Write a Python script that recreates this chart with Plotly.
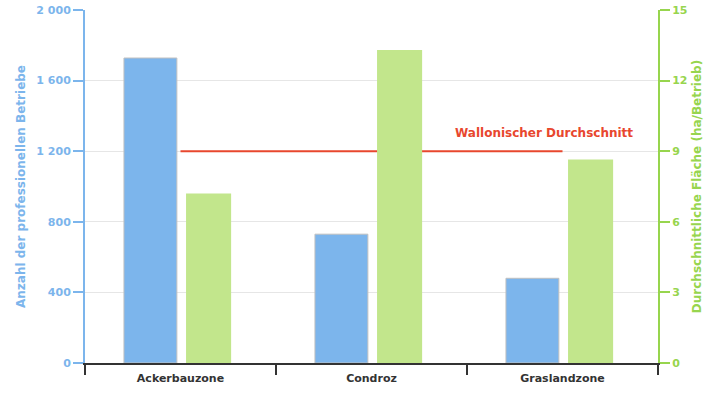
import plotly.graph_objects as go

categories = ["Ackerbauzone", "Condroz", "Graslandzone"]
betriebe = [1728, 730, 480]
flaeche = [7.2, 13.3, 8.65]
wallon_avg = 1200
avg_label = "Wallonischer Durchschnitt"

blue = "#7cb5ec"
green_bar = "#c2e68c"
green_axis = "#97d54e"
red = "#e8472e"
font = "DejaVu Sans"

x = list(range(len(categories)))

fig = go.Figure()
fig.add_trace(go.Bar(x=x, y=betriebe, yaxis="y", width=0.277, offset=-0.296,
                     marker=dict(color=blue, line=dict(color="#c0c0c0", width=1)),
                     hoverinfo="skip"))
fig.add_trace(go.Bar(x=x, y=flaeche, yaxis="y2", width=0.236, offset=0.029,
                     marker=dict(color=green_bar, line=dict(width=0)),
                     hoverinfo="skip"))
fig.add_trace(go.Scatter(x=[x[0], x[-1]], y=[wallon_avg, wallon_avg], mode="lines",
                         line=dict(color=red, width=2), yaxis="y", hoverinfo="skip"))

fig.add_annotation(x=2.38, y=1303, xref="x", yref="y", text="<b>" + avg_label + "</b>",
                   showarrow=False, xanchor="right", yanchor="middle",
                   font=dict(family=font, size=12, color=red))

fig.update_layout(
    width=725, height=400,
    margin=dict(l=85, r=67, t=10, b=37, autoexpand=False),
    plot_bgcolor="white", paper_bgcolor="white",
    showlegend=False, barmode="overlay",
    separators=", ",
    font=dict(family=font),
    xaxis=dict(range=[-0.5, 2.5], tickvals=x,
               ticktext=["<b>" + c + "</b>" for c in categories],
               tickfont=dict(family=font, size=11, color="#333333"),
               ticks="", showgrid=False, zeroline=False, automargin=False,
               ticklabelstandoff=4,
               showline=True, linecolor="#333333", linewidth=2,
               minor=dict(tick0=-0.5, dtick=1, ticks="outside", ticklen=10,
                          tickcolor="#333333", tickwidth=2, showgrid=False),
               fixedrange=True),
    yaxis=dict(range=[0, 2000], tickvals=[0, 400, 800, 1200, 1600, 2000],
               tickformat=",d", showgrid=True, gridcolor="#e6e6e6", zeroline=False,
               showline=True, linecolor=blue, linewidth=2, automargin=False,
               ticks="outside", ticklen=10, tickcolor=blue, tickwidth=2,
               tickfont=dict(family=font, size=11, color=blue, weight="bold"),
               title=dict(text="<b>Anzahl der professionellen Betriebe</b>",
                          font=dict(family=font, size=12, color=blue), standoff=8)),
    yaxis2=dict(range=[0, 15], tickvals=[0, 3, 6, 9, 12, 15], overlaying="y",
                side="right", showgrid=False, zeroline=False, automargin=False,
                showline=True, linecolor=green_axis, linewidth=2,
                ticks="outside", ticklen=10, tickcolor=green_axis, tickwidth=2,
                tickfont=dict(family=font, size=11, color=green_axis, weight="bold"),
                title=dict(text="<b>Durchschnittliche Fläche (ha/Betrieb)</b>",
                           font=dict(family=font, size=12, color=green_axis), standoff=6)),
)

fig.write_html("out.html")
